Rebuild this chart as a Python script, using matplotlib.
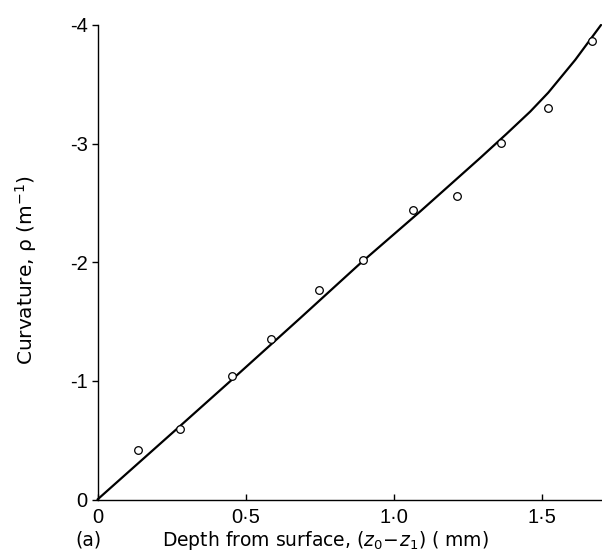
import matplotlib
matplotlib.use("Agg")
import matplotlib.pyplot as plt

# measured points
depth = [0.136, 0.279, 0.454, 0.587, 0.747, 0.898, 1.066, 1.213, 1.362, 1.522, 1.668]
curv = [-0.415, -0.592, -1.04, -1.35, -1.767, -2.022, -2.444, -2.562, -3.006, -3.298, -3.866]

# fitted curve
fit_x = [0.0, 0.279, 0.453, 0.684, 0.887, 1.089, 1.292, 1.38, 1.461, 1.522, 1.613, 1.70]
fit_y = [0.0, -0.62, -1.008, -1.528, -1.99, -2.427, -2.879, -3.08, -3.27, -3.43, -3.706, -4.0]

xticks = [0, 0.5, 1.0, 1.5]
xticklabels = ["0", "0\u00b75", "1\u00b70", "1\u00b75"]
yticks = [0, -1, -2, -3, -4]
yticklabels = ["0", "-1", "-2", "-3", "-4"]

W, H = 602, 560
fig = plt.figure(figsize=(W / 100, H / 100), dpi=100)
ax = fig.add_axes([97.5 / W, (H - 499.5) / H, (601 - 97.5) / W, (499.5 - 25) / H])

ax.plot(fit_x, fit_y, color="black", lw=1.6, solid_capstyle="round", solid_joinstyle="round",
        clip_on=False)
ax.plot(depth, curv, linestyle="none", marker="o", ms=5.5, mfc="white", mec="black", mew=0.9,
        zorder=3, clip_on=False)

ax.set_xlim(0, 1.70)
ax.set_ylim(0, -4)

for s in ["top", "right"]:
    ax.spines[s].set_visible(False)
for s in ["left", "bottom"]:
    ax.spines[s].set_linewidth(1.0)

tickfont = dict(family=["Liberation Sans", "DejaVu Sans"], size=14.5)
ax.set_xticks(xticks)
ax.set_xticklabels(xticklabels, **tickfont)
ax.set_yticks(yticks)
ax.set_yticklabels(yticklabels, **tickfont)
ax.tick_params(axis="x", direction="in", length=4, width=1, pad=6)
ax.tick_params(axis="y", direction="out", length=4, width=1, pad=3)

fig.text(325 / W, 1 - 546 / H, r"Depth from surface, $(z_0\!-\!z_1)$ ( mm)", ha="center",
         va="baseline", family="DejaVu Sans", size=13.5)
fig.text(88 / W, 1 - 546 / H, "(a)", ha="center", va="baseline", family="DejaVu Sans", size=13.5)
fig.text(26 / W, 1 - 270 / H, r"Curvature, ρ (m$^{-1}$)", rotation=90, ha="center", va="center",
         family="DejaVu Sans", size=14.5)

fig.savefig("out.png", dpi=100)
